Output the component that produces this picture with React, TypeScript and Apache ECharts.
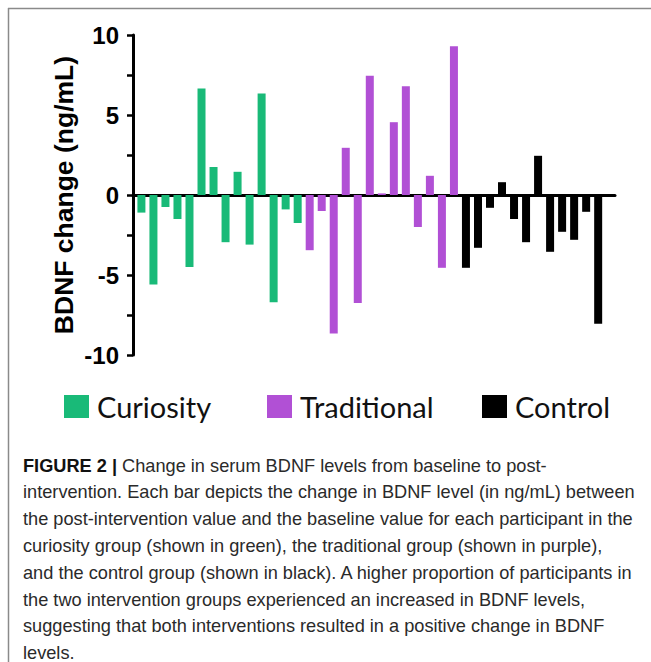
import React, { useEffect, useRef } from "react";
import * as echarts from "echarts";

const curiosity = [-1.1, -5.6, -0.75, -1.5, -4.5, 6.65, 1.75, -2.95, 1.45, -3.1, 6.35, -6.7, -0.9, -1.75];
const traditional = [-3.45, -1.0, -8.65, 2.95, -6.75, 7.45, 0.1, 4.55, 6.8, -2.0, 1.2, -4.55, 9.3];
const control = [-4.55, -3.3, -0.8, 0.8, -1.5, -2.95, 2.45, -3.55, -2.3, -2.8, -1.05, -8.05];

const groupNames = ["Curiosity", "Traditional", "Control"];
const groupColors = ["#19BA78", "#B150D5", "#000000"];
const yTicks = { min: -10, max: 10, interval: 2.5, labelStep: 5 };
const yTitle = "BDNF change (ng/mL)";

const captionLines = [
  "Change in serum BDNF levels from baseline to post-",
  "intervention. Each bar depicts the change in BDNF level (in ng/mL) between",
  "the post-intervention value and the baseline value for each participant in the",
  "curiosity group (shown in green), the traditional group (shown in purple),",
  "and the control group (shown in black). A higher proportion of participants in",
  "the two intervention groups experienced an increased in BDNF levels,",
  "suggesting that both interventions resulted in a positive change in BDNF",
  "levels.",
];
const captionLabel = "FIGURE 2 |";

export default function App() {
  const ref = useRef<HTMLDivElement>(null);
  useEffect(() => {
    if (!ref.current) return;
    const chart = echarts.init(ref.current, null, { renderer: "svg" });
    const groups = [curiosity, traditional, control];
    let offset = 0;
    const series = groups.map((vals, gi) => {
      const start = offset;
      offset += vals.length;
      return {
        name: groupNames[gi],
        type: "bar",
        barWidth: 8,
        barGap: "-100%",
        itemStyle: { color: groupColors[gi] },
        data: vals.map((v, i) => [start + i, v]),
      };
    });
    const captionFont = "18.2px 'Liberation Sans', Arial, sans-serif";
    const captionTexts = captionLines.map((line, i) => ({
      type: "text",
      x: 23,
      y: 465.5 + i * 26.8,
      style: {
        text: i === 0 ? `{b|${captionLabel}} ${line}` : line,
        fill: "#2a2a2a",
        font: captionFont,
        lineHeight: 18,
        verticalAlign: "middle",
        rich: {
          b: {
            fontWeight: "bold",
            fill: "#111",
            fontSize: 18.2,
            fontFamily: "Liberation Sans, Arial, sans-serif",
            lineHeight: 18,
          },
        },
      },
    }));
    const legendLefts = [64, 267, 482];
    chart.setOption({
      animation: false,
      backgroundColor: "#ffffff",
      grid: { left: 133, top: 35, width: 482, height: 320 },
      xAxis: {
        type: "value",
        min: -0.7,
        max: 39.4,
        axisLine: { show: true, onZero: true, lineStyle: { color: "#000", width: 3 } },
        axisTick: { show: false },
        axisLabel: { show: false },
        splitLine: { show: false },
      },
      yAxis: {
        type: "value",
        min: yTicks.min,
        max: yTicks.max,
        interval: yTicks.interval,
        axisLine: { show: true, onZero: false, lineStyle: { color: "#000", width: 3 } },
        axisTick: { show: true, length: 6, lineStyle: { color: "#000", width: 2.5 } },
        axisLabel: {
          margin: 14,
          color: "#000",
          fontFamily: "Liberation Sans, Arial, sans-serif",
          fontWeight: "bold",
          fontSize: 24,
          formatter: (v: number) => (v % yTicks.labelStep === 0 ? String(v) : ""),
        },
        splitLine: { show: false },
      },
      legend: groupNames.map((n, i) => ({
        data: [n],
        left: legendLefts[i],
        top: 392,
        padding: 0,
        icon: "rect",
        itemWidth: 25,
        itemHeight: 23,
        textStyle: {
          fontFamily: "Lato, sans-serif",
          fontSize: 29,
          color: "#111",
          padding: [0, 0, 0, 3],
        },
      })),
      series,
      graphic: [
        { type: "line", shape: { x1: 8, y1: 8.5, x2: 651, y2: 8.5 }, style: { stroke: "#8a8a8a", lineWidth: 1.5 } },
        { type: "line", shape: { x1: 8.5, y1: 8, x2: 8.5, y2: 662 }, style: { stroke: "#8a8a8a", lineWidth: 1.5 } },
        {
          type: "text",
          x: 64,
          y: 195,
          rotation: Math.PI / 2,
          style: {
            text: yTitle,
            fill: "#000",
            font: "bold 26.5px 'Liberation Sans', Arial, sans-serif",
            align: "center",
            verticalAlign: "middle",
          },
        },
        ...captionTexts,
      ],
    });
    return () => chart.dispose();
  }, []);
  return (
    <>
      <style>{`body{margin:0}`}</style>
      <div ref={ref} style={{ width: 651, height: 662 }} />
    </>
  );
}
